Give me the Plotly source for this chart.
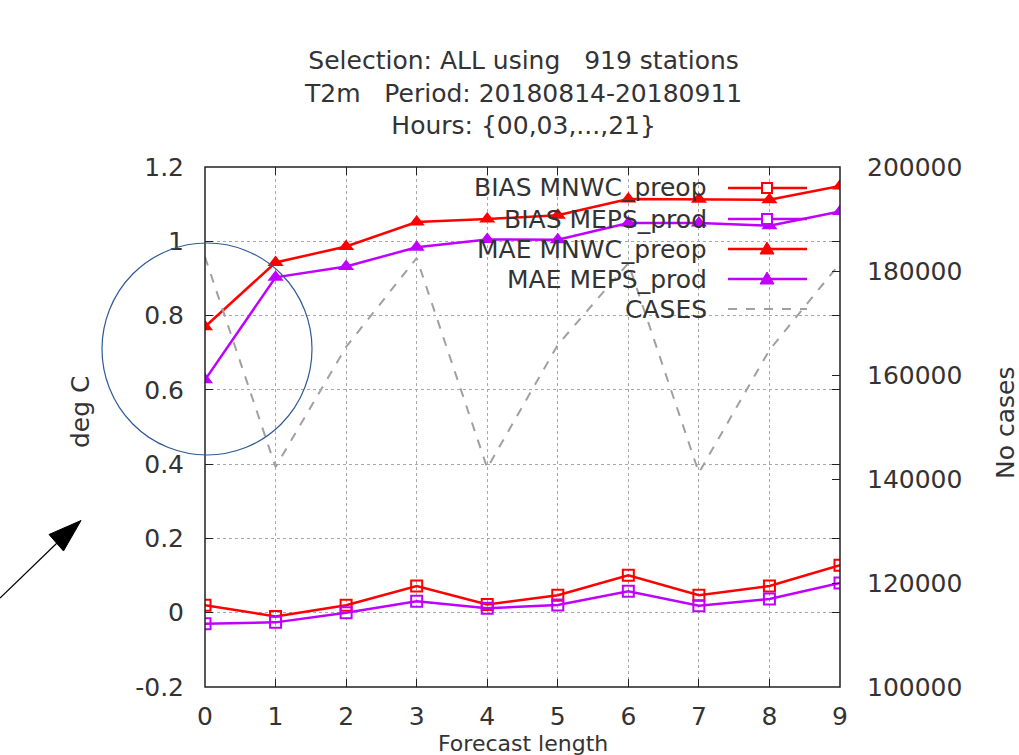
import plotly.graph_objects as go

# ---------------- data ----------------
lead = [0, 1, 2, 3, 4, 5, 6, 7, 8, 9]
bias_mnwc = [0.02, -0.01, 0.02, 0.072, 0.022, 0.047, 0.101, 0.047, 0.072, 0.128]
bias_meps = [-0.030, -0.026, 0.0, 0.031, 0.012, 0.021, 0.058, 0.019, 0.037, 0.080]
mae_mnwc = [0.770, 0.943, 0.986, 1.052, 1.060, 1.070, 1.114, 1.113, 1.112, 1.149]
mae_meps = [0.627, 0.903, 0.932, 0.984, 1.005, 1.004, 1.049, 1.049, 1.042, 1.080]
cases = [182700, 142300, 165400, 182500, 142100, 165800, 181500, 141200, 164800, 181500]

left_ticks = [-0.2, 0, 0.2, 0.4, 0.6, 0.8, 1.0, 1.2]
left_ticktext = ["-0.2", "0", "0.2", "0.4", "0.6", "0.8", "1", "1.2"]
right_ticks = [100000, 120000, 140000, 160000, 180000, 200000]
right_ticktext = ["100000", "120000", "140000", "160000", "180000", "200000"]

names = ["BIAS MNWC_preop", "BIAS MEPS_prod", "MAE MNWC_preop", "MAE MEPS_prod", "CASES"]
title_lines = ["Selection: ALL using   919 stations",
               "T2m   Period: 20180814-20180911",
               "Hours: {00,03,...,21}"]

RED = "#ff0000"
PURPLE = "#c000ff"
GREY = "#a0a0a0"
TXT = "#333333"
FONT = "DejaVu Sans"
FS = 25

W, H = 1019, 755
L, R, T, B = 205, 840, 167, 687   # plot area in page pixels
PW, PH = R - L, B - T


def px(x):
    return (x - L) / PW


def py(y):
    return (B - y) / PH


fig = go.Figure()
fig.add_trace(go.Scatter(x=lead, y=bias_mnwc, name=names[0], mode="lines+markers",
                         line=dict(color=RED, width=2.5),
                         marker=dict(symbol="square-open", size=11, color=RED, line=dict(width=2))))
fig.add_trace(go.Scatter(x=lead, y=bias_meps, name=names[1], mode="lines+markers",
                         line=dict(color=PURPLE, width=2.5),
                         marker=dict(symbol="square-open", size=11, color=PURPLE, line=dict(width=2))))
fig.add_trace(go.Scatter(x=lead, y=mae_mnwc, name=names[2], mode="lines+markers",
                         line=dict(color=RED, width=2.5),
                         marker=dict(symbol="triangle-up", size=14, color=RED)))
fig.add_trace(go.Scatter(x=lead, y=mae_meps, name=names[3], mode="lines+markers",
                         line=dict(color=PURPLE, width=2.5),
                         marker=dict(symbol="triangle-up", size=14, color=PURPLE)))
fig.add_trace(go.Scatter(x=lead, y=cases, name=names[4], mode="lines", yaxis="y2",
                         line=dict(color=GREY, width=2, dash="dash")))

shapes = []
annotations = []

# custom gnuplot-style key (text right-aligned, sample to the right)
key_rows = [188, 219, 249, 279, 309]
key_styles = [(RED, "square"), (PURPLE, "square"), (RED, "tri"), (PURPLE, "tri"), (GREY, None)]
for (yrow, name, (col, mk)) in zip(key_rows, names, key_styles):
    annotations.append(dict(xref="paper", yref="paper", x=px(709), y=py(yrow),
                            xanchor="right", yanchor="middle", showarrow=False,
                            text=name, font=dict(family=FONT, size=FS, color=TXT)))
    shapes.append(dict(type="line", xref="paper", yref="paper",
                       x0=px(728), x1=px(807), y0=py(yrow), y1=py(yrow),
                       line=dict(color=col, width=2.5 if mk else 2,
                                 dash="solid" if mk else "dash")))
    if mk == "square":
        shapes.append(dict(type="rect", xref="paper", yref="paper",
                           x0=px(762), x1=px(772), y0=py(yrow + 5), y1=py(yrow - 5),
                           line=dict(color=col, width=2), fillcolor="white"))
    elif mk == "tri":
        path = "M {} {} L {} {} L {} {} Z".format(px(760), py(yrow + 5), px(774), py(yrow + 5),
                                                 px(767), py(yrow - 7))
        shapes.append(dict(type="path", xref="paper", yref="paper", path=path,
                           line=dict(color=col, width=1), fillcolor=col))

# frame
shapes.append(dict(type="rect", xref="paper", yref="paper", x0=0, x1=1, y0=0, y1=1,
                   line=dict(color="#222222", width=1.5), layer="above"))

# hand-drawn circle and arrow
shapes.append(dict(type="circle", xref="paper", yref="paper",
                   x0=px(102), x1=px(312), y0=py(455), y1=py(243),
                   line=dict(color="#2f5a96", width=1.2)))
shapes.append(dict(type="line", xref="paper", yref="paper",
                   x0=px(0), y0=py(598), x1=px(57), y1=py(543),
                   line=dict(color="black", width=1.2)))
shapes.append(dict(type="path", xref="paper", yref="paper",
                   path="M {} {} L {} {} L {} {} Z".format(px(81), py(520.5), px(49), py(534.5),
                                                          px(63.5), py(551)),
                   line=dict(color="black", width=1), fillcolor="black"))

# title
annotations.append(dict(xref="paper", yref="paper", x=0.5, y=py(44), xanchor="center",
                        yanchor="top", showarrow=False, text="<br>".join(title_lines),
                        font=dict(family=FONT, size=FS, color=TXT)))
# axis titles
annotations.append(dict(xref="paper", yref="paper", x=px(80), y=py(412), textangle=-90,
                        xanchor="center", yanchor="middle",
                        showarrow=False, text="deg C", font=dict(family=FONT, size=FS, color=TXT)))
annotations.append(dict(xref="paper", yref="paper", x=px(1005), y=py(423), textangle=-90,
                        xanchor="center", yanchor="middle",
                        showarrow=False, text="No cases", font=dict(family=FONT, size=FS, color=TXT)))
annotations.append(dict(xref="paper", yref="paper", x=0.5, y=py(729), xanchor="center",
                        yanchor="top", showarrow=False, text="Forecast length",
                        font=dict(family=FONT, size=22, color=TXT)))

fig.update_layout(
    width=W, height=H,
    margin=dict(l=L, r=W - R, t=T, b=H - B, pad=0),
    paper_bgcolor="white", plot_bgcolor="white",
    showlegend=False,
    font=dict(family=FONT, size=FS, color=TXT),
    xaxis=dict(range=[0, 9], tickvals=lead, ticktext=[str(v) for v in lead],
               showgrid=True, gridcolor="#a8a8a8", griddash="dot", gridwidth=1,
               ticks="inside", ticklen=8, tickcolor="#222222", mirror="ticks",
               showline=False, zeroline=False, ticklabelstandoff=12),
    yaxis=dict(range=[-0.2, 1.2], tickvals=left_ticks, ticktext=left_ticktext,
               showgrid=True, gridcolor="#a8a8a8", griddash="dot", gridwidth=1,
               ticks="inside", ticklen=8, tickcolor="#222222", mirror="ticks",
               showline=False, zeroline=False, ticklabelstandoff=20),
    yaxis2=dict(range=[100000, 200000], tickvals=right_ticks, ticktext=right_ticktext,
                overlaying="y", side="right", showgrid=False, zeroline=False,
                ticks="inside", ticklen=8, tickcolor="#222222", showline=False,
                ticklabelstandoff=26),
    shapes=shapes,
    annotations=annotations,
)

fig.write_html("out.html", config={"displayModeBar": False},
               post_script="document.body.style.margin='0';document.body.style.overflow='hidden';")
